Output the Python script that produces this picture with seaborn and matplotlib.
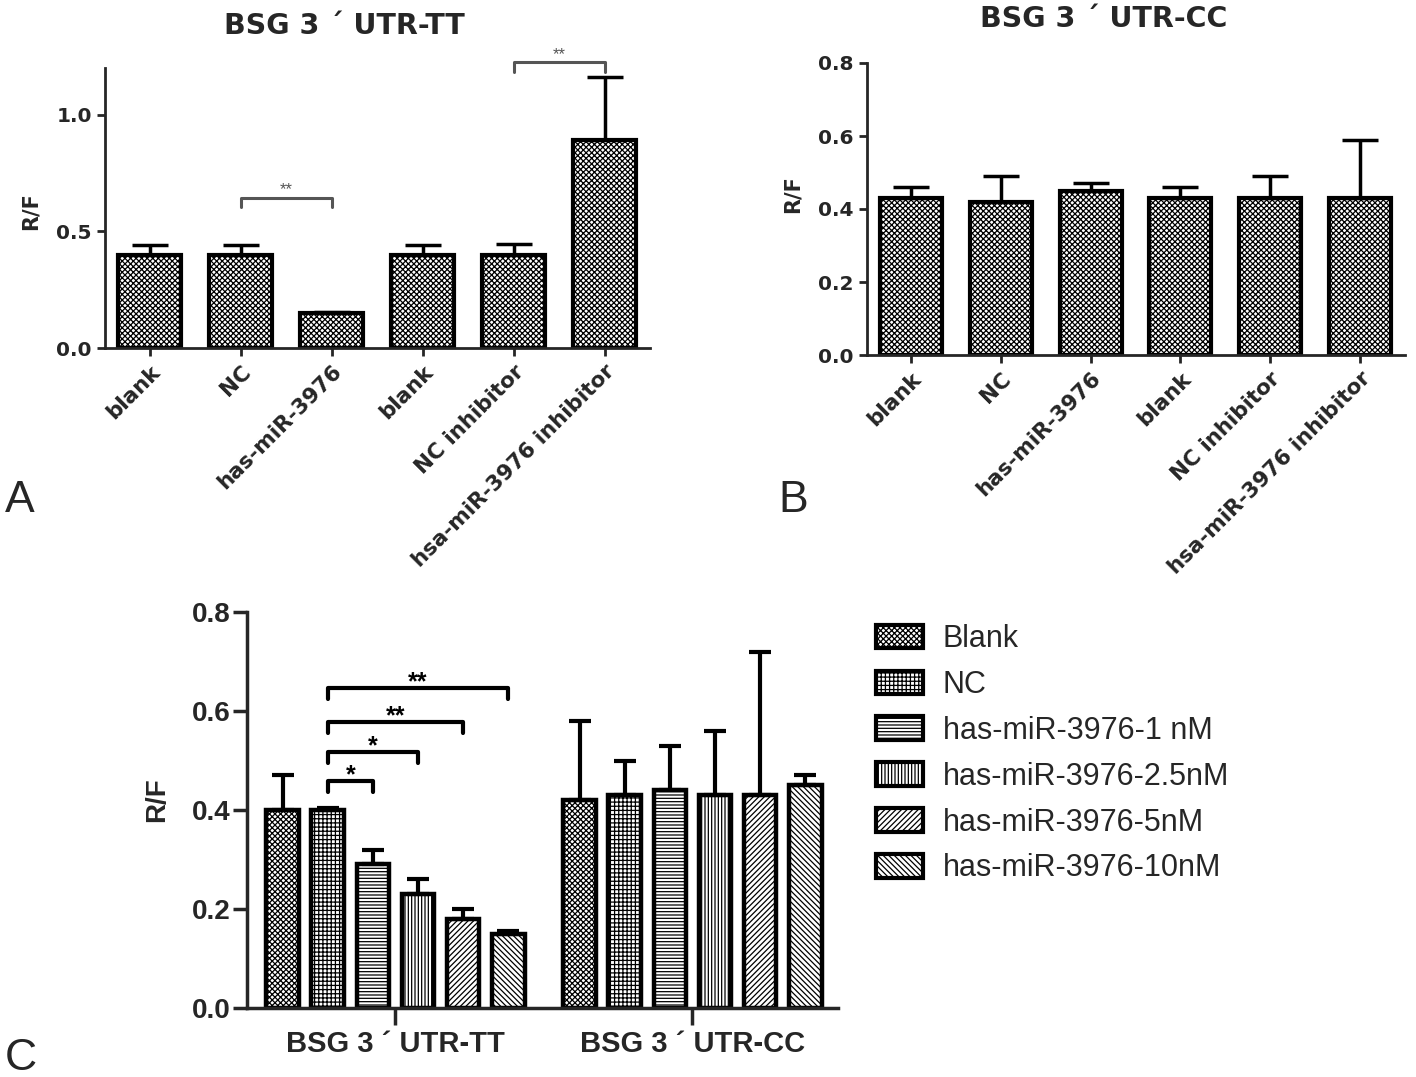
import numpy as np
import pandas as pd
import seaborn as sns
import matplotlib.pyplot as plt
from matplotlib.patches import Patch

# panel A / B data
ab_labels = ['blank', 'NC', 'has-miR-3976', 'blank', 'NC inhibitor',
             'hsa-miR-3976 inhibitor']
tt_mean = [0.40, 0.40, 0.15, 0.40, 0.40, 0.89]
tt_upper = [0.44, 0.44, 0.155, 0.44, 0.445, 1.16]
cc_mean = [0.43, 0.42, 0.45, 0.43, 0.43, 0.43]
cc_upper = [0.46, 0.49, 0.47, 0.46, 0.49, 0.59]

# panel C data
constructs = ['BSG 3 \u00b4 UTR-TT', 'BSG 3 \u00b4 UTR-CC']
treatments = ['Blank', 'NC', 'has-miR-3976-1 nM', 'has-miR-3976-2.5nM',
              'has-miR-3976-5nM', 'has-miR-3976-10nM']
c_tt_mean = [0.40, 0.40, 0.29, 0.23, 0.18, 0.15]
c_tt_upper = [0.47, 0.405, 0.32, 0.26, 0.20, 0.155]
c_cc_mean = [0.42, 0.43, 0.44, 0.43, 0.43, 0.45]
c_cc_upper = [0.58, 0.50, 0.53, 0.56, 0.72, 0.47]
hatches = ['xxxxxx', '++++', '-----', '|||||', '//////', '\\\\\\\\\\\\']

sns.set_style('ticks')
plt.rcParams['font.family'] = ['Liberation Sans', 'DejaVu Sans']
plt.rcParams['hatch.linewidth'] = 0.9
plt.rcParams['axes.linewidth'] = 2.0

W, H = 1416, 1077
fig = plt.figure(figsize=(W / 100, H / 100), dpi=100)
WIDE = ['DejaVu Sans']


def px_axes(l, r, b, t):
    return fig.add_axes([l / W, 1 - b / H, (r - l) / W, (b - t) / H])


def bracket(ax, x1, x2, y, tip, text, size, color='black', weight='bold',
            lw=2.5, dy=0.0):
    ax.plot([x1, x1, x2, x2], [y - tip, y, y, y - tip], color=color, lw=lw,
            clip_on=False, solid_capstyle='round')
    ax.text((x1 + x2) / 2, y + dy, text, ha='center', va='bottom',
            fontsize=size, color=color, fontweight=weight)


def small_panel(ax, means, uppers, ymax, yticks, title):
    x = np.arange(len(means))
    sns.barplot(x=x, y=means, ax=ax, color='white', edgecolor='black',
                linewidth=3, width=0.69, errorbar=None)
    for bar in ax.patches:
        bar.set_hatch('xxxxxx')
        bar.set_facecolor('white')
    err = [np.zeros(len(means)), np.array(uppers) - np.array(means)]
    ax.errorbar(x, means, yerr=err, fmt='none', ecolor='black',
                elinewidth=2.5, capsize=13, capthick=2.5)
    ax.set_xlim(-0.49, 5.5)
    ax.set_ylim(0, ymax)
    ax.set_yticks(yticks)
    ax.set_yticklabels([f'{v:.1f}' for v in yticks], fontsize=14.5,
                       fontweight='bold', family=WIDE)
    ax.set_xticks(x)
    ax.set_xticklabels(ab_labels, rotation=45, ha='right',
                       rotation_mode='anchor', fontsize=15.5,
                       fontweight='bold', family=WIDE)
    ax.tick_params(width=2, length=6)
    sns.despine(ax=ax)
    ax.set_ylabel('R/F', fontsize=15, fontweight='bold', family=WIDE)
    ax.text(0.44, 1.15, title, transform=ax.transAxes, ha='center',
            va='center', fontsize=20.5, fontweight='bold', family=WIDE)


# panel A
ax_a = px_axes(105, 650, 348, 68)
small_panel(ax_a, tt_mean, tt_upper, 1.2, [0.0, 0.5, 1.0],
            'BSG 3 \u00b4 UTR-TT')
ax_a.yaxis.set_label_coords(-0.119, 0.49)
bracket(ax_a, 1, 2, 0.645, 0.04, '**', 12, color='#555555',
        weight='normal', lw=2.2)
bracket(ax_a, 4, 5, 1.225, 0.04, '**', 12, color='#555555',
        weight='normal', lw=2.2)

# panel B
ax_b = px_axes(867, 1405, 355, 63)
small_panel(ax_b, cc_mean, cc_upper, 0.8, [0.0, 0.2, 0.4, 0.6, 0.8],
            'BSG 3 \u00b4 UTR-CC')
ax_b.yaxis.set_label_coords(-0.119, 0.55)

# panel C
df = pd.DataFrame({
    'construct': np.repeat(constructs, len(treatments)),
    'treatment': treatments * 2,
    'value': c_tt_mean + c_cc_mean,
})
upper = {constructs[0]: c_tt_upper, constructs[1]: c_cc_upper}
means = {constructs[0]: c_tt_mean, constructs[1]: c_cc_mean}

ax_c = px_axes(247, 838, 1008, 612)
sns.barplot(data=df, x='construct', y='value', hue='treatment',
            hue_order=treatments, palette=['white'] * 6, edgecolor='black',
            linewidth=3.2, width=0.91, gap=0.27, errorbar=None, legend=False,
            ax=ax_c)
bar_conts = [c for c in ax_c.containers]
centers = []
for i, cont in enumerate(bar_conts):
    xs = []
    for bar in cont:
        bar.set_hatch(hatches[i])
        xs.append(bar.get_x() + bar.get_width() / 2)
    centers.append(xs)
    m = [means[c][i] for c in constructs]
    u = [upper[c][i] for c in constructs]
    ax_c.errorbar(xs, m, yerr=[[0, 0], np.array(u) - np.array(m)],
                  fmt='none', ecolor='black', elinewidth=3, capsize=8,
                  capthick=3)

ax_c.set_xlim(-0.50, 1.49)
ax_c.set_ylim(0, 0.8)
cticks = [0.0, 0.2, 0.4, 0.6, 0.8]
ax_c.set_yticks(cticks)
ax_c.set_yticklabels([f'{v:.1f}' for v in cticks], fontsize=20,
                     fontweight='bold')
ax_c.set_xticks([0, 1])
ax_c.set_xticklabels(constructs, fontsize=21, fontweight='bold')
ax_c.set_xlabel('')
ax_c.set_ylabel('R/F', fontsize=20, fontweight='bold')
ax_c.yaxis.set_label_coords(-0.13, 0.525)
ax_c.tick_params(axis='y', width=2.5, length=10, pad=2)
ax_c.tick_params(axis='x', width=2.5, length=12)
for side in ['left', 'bottom']:
    ax_c.spines[side].set_linewidth(2.5)
sns.despine(ax=ax_c)

nc_x = centers[1][0]
levels = [0.458, 0.517, 0.578, 0.646]
stars = ['*', '*', '**', '**']
for k, (lvl, s) in enumerate(zip(levels, stars)):
    bracket(ax_c, nc_x, centers[k + 2][0], lvl, 0.022, s, 18, lw=3,
            dy=-0.012)

handles = [Patch(facecolor='white', edgecolor='black', hatch=h,
                 linewidth=3) for h in hatches]
fig.legend(handles, treatments, loc='upper left',
           bbox_to_anchor=(876 / W, 1 - 624 / H), frameon=False,
           fontsize=22, handlelength=1.54, handleheight=0.8,
           handletextpad=0.65, labelspacing=0.52, borderpad=0,
           borderaxespad=0)

fig.text(5 / W, 1 - 512 / H, 'A', fontsize=32)
fig.text(778 / W, 1 - 512 / H, 'B', fontsize=32)
fig.text(5 / W, 1 - 1070 / H, 'C', fontsize=32)

fig.savefig('out.png', dpi=100)
